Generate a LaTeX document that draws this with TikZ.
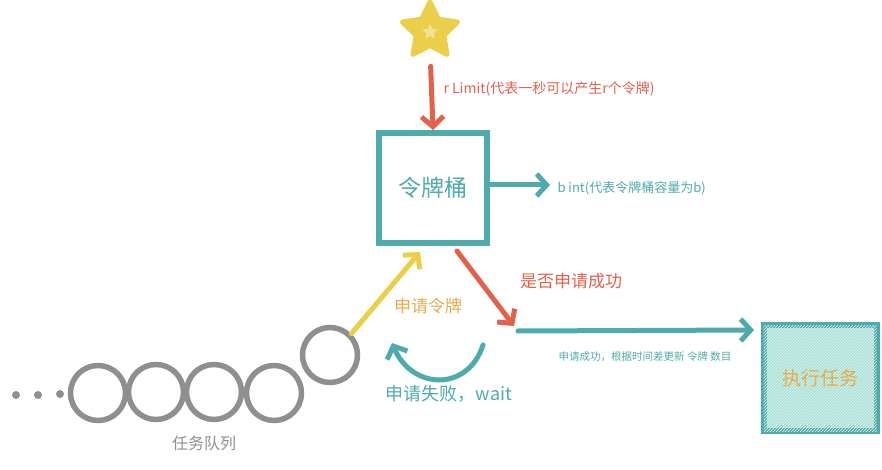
\documentclass[tikz,border=0pt]{standalone}
\usepackage{fontspec}
\setmainfont{Noto Sans CJK SC}
\usetikzlibrary{arrows.meta,shapes.geometric,patterns}

\definecolor{tealc}{HTML}{4FAAAB}
\definecolor{redc}{HTML}{E2614A}
\definecolor{yellowc}{HTML}{EBCF4A}
\definecolor{orangec}{HTML}{E9AA4C}
\definecolor{grayc}{HTML}{8F8F8F}
\definecolor{mintc}{HTML}{A9E0D6}

\tikzset{
  barb/.style={-{Straight Barb[length=10pt,width=22pt,line width=5pt]}, line cap=round, line width=5pt},
  bucketbox/.style={draw=tealc, line width=6pt, minimum width=108pt, minimum height=110pt, text=tealc, font=\fontsize{23}{23}\selectfont},
  queuering/.style={circle, draw=grayc, line width=5.5pt, minimum size=55pt, inner sep=0pt},
  queuedot/.style={circle, fill=grayc, minimum size=8pt, inner sep=0pt},
}

\begin{document}
\begin{tikzpicture}[x=1pt, y=-1pt]
  \useasboundingbox (0,0) rectangle (882,470);

  % star and token bucket
  \node[star, star points=5, star point ratio=2.0, minimum size=58pt, inner sep=0pt,
        fill=yellowc, draw=yellowc, line width=5pt, line join=round] (star) at (430,31) {};
  \node[star, star points=5, star point ratio=2.0, minimum size=16pt, inner sep=0pt,
        fill=yellowc!60!white] (glint) at (430,32) {};
  \node[bucketbox] (bucket) at (433,188) {令牌桶};
  \draw[barb, redc, shorten <=18pt] (star.south) -- (bucket.north);
  \node[anchor=west, text=redc, font=\fontsize{14}{14}\selectfont] (rate) at (440,89) {r Limit(代表一秒可以产生r个令牌)};

  \coordinate (cap) at (550,185);
  \draw[barb, tealc] (bucket.east |- cap) -- (cap);
  \node[anchor=west, text=tealc, font=\fontsize{13}{13}\selectfont] (capacity) at (554,188) {b int(代表令牌桶容量为b)};

  % task queue
  \node[queuedot] (d1) at (16,395) {};
  \node[queuedot] (d2) at (38,395) {};
  \node[queuedot] (d3) at (60,394) {};
  \node[queuering] (q1) at (98,393) {};
  \node[queuering] (q2) at (156,392) {};
  \node[queuering] (q3) at (214,392) {};
  \node[queuering] (q4) at (274,393) {};
  \node[queuering] (q5) at (330,355) {};
  \node[text=grayc, font=\fontsize{16}{16}\selectfont] (queue) at (204,443) {任务队列};

  % request token
  \coordinate (ask) at (420,252);
  \draw[barb, yellowc] (q5.north east) -- (ask);
  \node[text=orangec, font=\fontsize{17}{17}\selectfont] (asklbl) at (428,306) {申请令牌};

  % success or not
  \coordinate (out) at (457,251);
  \coordinate (hit) at (514,326);
  \draw[barb, redc] (out) -- (hit);
  \node[text=redc, font=\fontsize{17}{17}\selectfont] (oklbl) at (571,281) {是否申请成功};

  % execute task
  \node[draw=tealc, line width=6pt, minimum width=113pt, minimum height=106pt,
        fill=mintc, postaction={pattern=north east lines, pattern color=white!70!mintc},
        text=orangec, font=\fontsize{19}{19}\selectfont] (task) at (820,378) {执行任务};
  \coordinate (go) at (518,331);
  \coordinate (arrive) at (754,330);
  \draw[barb, tealc] (go) -- (arrive);
  \node[text=tealc, font=\fontsize{10.5}{10.5}\selectfont] (golbl) at (645,357) {申请成功，根据时间差更新 令牌 数目};

  % failed, wait
  \coordinate (fail) at (483,345);
  \coordinate (back) at (392,343);
  \draw[barb, tealc] (fail) .. controls (468,392) and (412,390) .. (back);
  \node[text=tealc, font=\fontsize{18}{18}\selectfont] (waitlbl) at (449,394) {申请失败，wait};
\end{tikzpicture}
\end{document}
